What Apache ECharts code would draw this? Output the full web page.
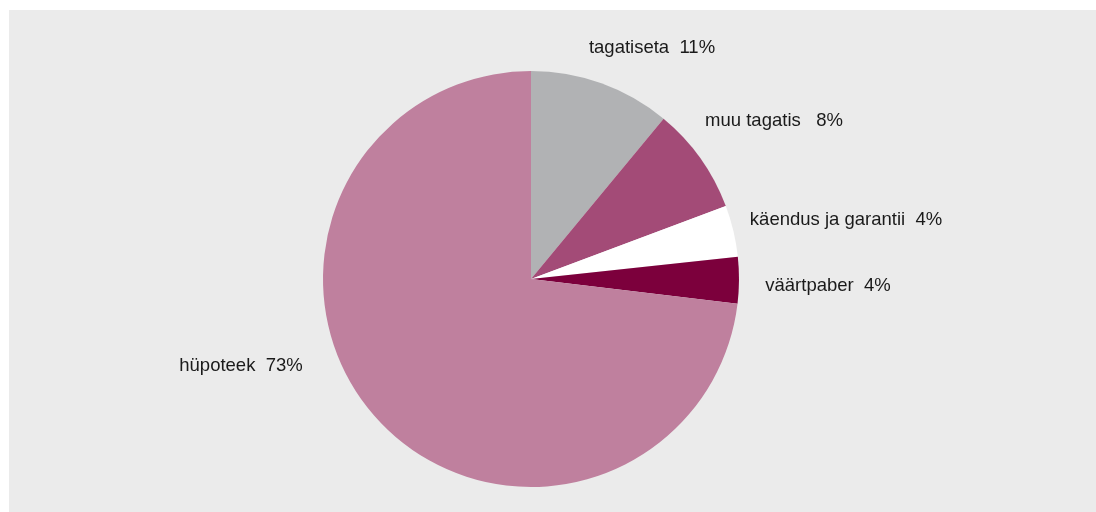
<!DOCTYPE html>
<html>
<head>
<meta charset="utf-8">
<script src="https://cdn.jsdelivr.net/npm/echarts@6/dist/echarts.min.js"></script>
<style>
html,body{margin:0;padding:0;background:#ffffff;}
#chart{width:1096px;height:512px;}
</style>
</head>
<body>
<div id="chart"></div>
<script>
var categories = ['tagatiseta', 'muu tagatis', 'käendus ja garantii', 'väärtpaber', 'hüpoteek'];
var values = [11.0, 8.3, 4.0, 3.6, 73.1];
var labelTexts = ['tagatiseta  11%', 'muu tagatis   8%', 'käendus ja garantii  4%', 'väärtpaber  4%', 'hüpoteek  73%'];

var colors = ['#b1b2b4', '#a34b77', '#ffffff', '#7c003c', '#bf809e'];
var labelPos = [[652, 48], [774, 121], [846, 220], [828, 286], [241, 366]];

var chart = echarts.init(document.getElementById('chart'), null, {renderer: 'canvas'});
chart.setOption({
  backgroundColor: '#ffffff',
  animation: false,
  graphic: [{
    type: 'rect',
    shape: {x: 9, y: 10, width: 1087, height: 502},
    style: {fill: '#ebebeb'},
    z: -10,
    silent: true
  }],
  series: [{
    type: 'pie',
    center: [531, 279],
    radius: 208,
    startAngle: 90,
    clockwise: true,
    avoidLabelOverlap: false,
    data: categories.map(function (c, i) {
      return {name: c, value: values[i], itemStyle: {color: colors[i]}};
    }),
    itemStyle: {borderWidth: 0},
    label: {
      show: true,
      position: 'outside',
      formatter: function (p) { return labelTexts[p.dataIndex]; },
      fontFamily: 'Liberation Sans, Arial, sans-serif',
      fontSize: 18.5,
      color: '#1a1a1a'
    },
    labelLine: {show: false},
    labelLayout: function (p) {
      var pos = labelPos[p.dataIndex];
      return {x: pos[0], y: pos[1], align: 'center', verticalAlign: 'middle'};
    },
    emphasis: {disabled: true}
  }]
});
</script>
</body>
</html>
